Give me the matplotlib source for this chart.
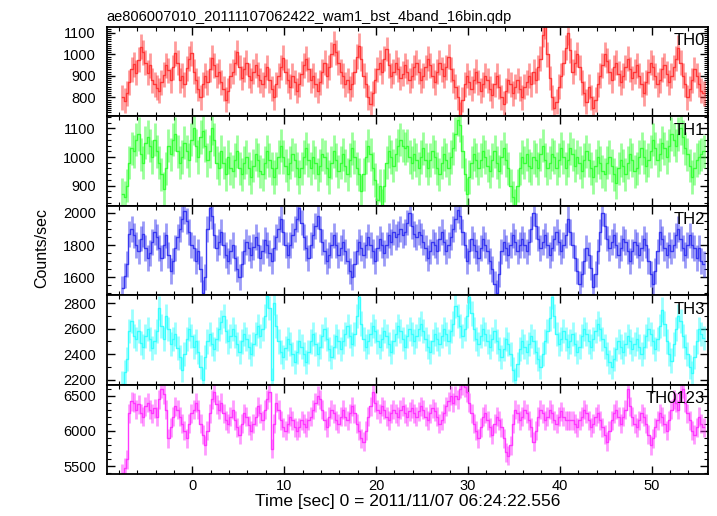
import numpy as np
import matplotlib
matplotlib.use("Agg")
import matplotlib.pyplot as plt
from matplotlib.ticker import MultipleLocator, AutoMinorLocator

plt.rcParams['font.family'] = ['Liberation Sans', 'DejaVu Sans']

titulo = "ae806007010_20111107062422_wam1_bst_4band_16bin.qdp"
xlabel = "Time [sec] 0 = 2011/11/07 06:24:22.556"
ylabel = "Counts/sec"

# tiempo de inicio y ancho de bin (s) de los valores leidos
t_inicio = -7.6
ancho_bin = 0.25

paneles = ["TH0", "TH1", "TH2", "TH3", "TH0123"]
colores = ["#ff3838", "#38ff38", "#3838f0", "#38ffff", "#ff38ff"]

th0 = [
    800, 785, 820, 870, 930, 955, 915, 975, 1035, 1010, 960, 915, 950, 880, 860, 845,
    830, 870, 905, 950, 925, 880, 940, 1005, 960, 880, 900, 860, 935, 980, 1005, 920,
    880, 840, 800, 860, 900, 870, 930, 985, 950, 900, 920, 870, 840, 790, 830, 900,
    920, 960, 1010, 940, 890, 930, 960, 900, 880, 920, 950, 905, 880, 860, 900, 940,
    880, 840, 800, 860, 900, 940, 985, 920, 880, 850, 900, 870, 830, 860, 910, 950,
    980, 930, 880, 900, 860, 830, 870, 920, 960, 900, 940, 1000, 1050, 1010, 960, 920,
    900, 860, 880, 840, 860, 920, 990, 1040, 980, 900, 860, 800, 770, 820, 880, 930,
    960, 920, 980, 1025, 950, 900, 920, 960, 930, 890, 910, 950, 920, 880, 900, 940,
    960, 920, 880, 900, 940, 980, 950, 900, 870, 920, 960, 930, 900, 940, 990, 930,
    880, 850, 800, 720, 790, 860, 900, 870, 840, 880, 920, 870, 830, 860, 900, 880,
    840, 810, 860, 900, 850, 800, 770, 830, 880, 860, 820, 850, 880, 840, 800, 850,
    870, 900, 860, 920, 880, 940, 980, 1090, 1130, 1000, 890, 800, 750, 780, 850, 900,
    960, 1030, 1100, 1020, 920, 960, 1000, 940, 870, 820, 780, 850, 800, 750, 790, 860,
    900, 950, 1000, 970, 920, 880, 940, 960, 910, 870, 900, 940, 980, 930, 890, 920,
    950, 900, 860, 820, 870, 920, 960, 940, 900, 860, 880, 930, 950, 910, 870, 900,
    940, 980, 1030, 960, 900, 860, 800, 840, 880, 930, 900, 860, 830, 820,
]
th1 = [
    870, 860, 900, 980, 1030, 1020, 1060, 1080, 1010, 980, 1050, 1070, 1040, 1000, 1060, 1020,
    980, 940, 890, 960, 1040, 1010, 1060, 1080, 1020, 980, 1000, 1050, 1020, 990, 1060, 1100,
    1040, 1000, 1070, 1090, 1040, 990, 1020, 1100, 1060, 980, 960, 1020, 980, 940, 1000, 960,
    950, 990, 1020, 960, 940, 980, 1000, 960, 930, 970, 1010, 990, 950, 940, 980, 1020,
    990, 960, 930, 960, 1000, 1040, 1000, 970, 940, 980, 1010, 990, 960, 930, 960, 1000,
    1030, 990, 960, 1000, 980, 940, 970, 1010, 1000, 960, 930, 980, 1020, 990, 950, 980,
    1010, 970, 940, 990, 1030, 1000, 960, 940, 880, 940, 1000, 1040, 1010, 960, 920, 850,
    900, 830, 900, 980, 1020, 1000, 970, 1010, 1040, 1060, 1040, 1030, 1040, 1000, 980, 1010,
    990, 960, 1000, 1030, 990, 960, 990, 1020, 1000, 960, 940, 980, 1010, 990, 960, 1000,
    1030, 1080, 1130, 1110, 1020, 940, 870, 930, 980, 1010, 990, 960, 990, 1020, 1000, 970,
    950, 990, 1020, 980, 950, 1000, 1030, 990, 960, 900, 860, 830, 900, 960, 1000, 980,
    1010, 970, 960, 1000, 990, 960, 1010, 1040, 990, 960, 980, 1010, 1000, 960, 990, 1030,
    1000, 960, 990, 1030, 1010, 970, 1000, 980, 950, 990, 1020, 990, 960, 930, 970, 1000,
    980, 950, 940, 980, 1000, 970, 940, 910, 960, 990, 970, 940, 980, 1010, 990, 950,
    960, 1000, 1030, 1000, 970, 990, 1020, 1060, 1030, 990, 1010, 1050, 1030, 1000, 1040, 1080,
    1060, 1040, 1080, 1100, 1070, 1030, 1010, 970, 930, 960, 990, 1000, 1010, 1020,
]
th2 = [
    1530, 1610, 1680, 1870, 1900, 1860, 1800, 1760, 1840, 1870, 1780, 1720, 1750, 1820, 1880, 1850,
    1780, 1720, 1800, 1860, 1740, 1640, 1700, 1780, 1850, 1900, 1960, 2010, 1950, 1880, 1800, 1780,
    1700, 1760, 1650, 1500, 1600, 1900, 2030, 1980, 1860, 1780, 1820, 1880, 1800, 1740, 1700, 1760,
    1800, 1720, 1650, 1600, 1680, 1760, 1820, 1780, 1740, 1790, 1850, 1800, 1720, 1760, 1830, 1800,
    1750, 1700, 1780, 1850, 1900, 1960, 1880, 1800, 1740, 1800, 1860, 1900, 1960, 2030, 1940, 1850,
    1780, 1720, 1800, 1860, 1920, 1980, 1900, 1820, 1760, 1700, 1740, 1800, 1860, 1800, 1740, 1780,
    1820, 1760, 1700, 1640, 1600, 1680, 1760, 1820, 1780, 1740, 1800, 1850, 1800, 1760, 1700, 1780,
    1840, 1800, 1750, 1800, 1860, 1820, 1880, 1850, 1870, 1900, 1860, 1880, 1940, 2000, 1920, 1870,
    1850, 1880, 1860, 1820, 1780, 1720, 1760, 1820, 1800, 1760, 1840, 1880, 1820, 1760, 1800, 1850,
    1900, 1960, 2020, 1980, 1880, 1800, 1700, 1760, 1840, 1800, 1760, 1720, 1780, 1840, 1800, 1760,
    1700, 1650, 1560, 1500, 1620, 1760, 1820, 1780, 1740, 1800, 1860, 1820, 1760, 1800, 1840, 1800,
    1760, 1820, 1900, 2000, 1920, 1840, 1780, 1820, 1860, 1800, 1740, 1780, 1840, 1880, 1820, 1760,
    1800, 1860, 1960, 1880, 1800, 1720, 1640, 1560, 1620, 1700, 1780, 1740, 1660, 1540, 1620, 1760,
    1880, 2000, 1920, 1840, 1780, 1820, 1860, 1800, 1740, 1780, 1840, 1820, 1760, 1700, 1760, 1820,
    1800, 1740, 1780, 1840, 1800, 1700, 1620, 1560, 1640, 1760, 1880, 1840, 1780, 1740, 1800, 1760,
    1800, 1860, 1900, 1840, 1780, 1740, 1800, 1860, 1800, 1780, 1720, 1780, 1700, 1680,
]
th3 = [
    2170, 2260, 2360, 2580, 2660, 2540, 2520, 2580, 2490, 2460, 2540, 2600, 2520, 2450, 2500, 2580,
    2760, 2620, 2520, 2700, 2600, 2480, 2520, 2560, 2450, 2380, 2280, 2400, 2520, 2600, 2540, 2460,
    2500, 2420, 2300, 2200, 2380, 2500, 2560, 2480, 2440, 2520, 2600, 2650, 2700, 2580, 2500, 2540,
    2600, 2540, 2480, 2420, 2500, 2560, 2520, 2460, 2400, 2480, 2560, 2620, 2540, 2600, 2700, 2860,
    2760, 2200, 2800, 2620, 2500, 2420, 2380, 2450, 2520, 2480, 2400, 2340, 2420, 2500, 2460, 2400,
    2340, 2420, 2500, 2560, 2480, 2400, 2460, 2540, 2600, 2520, 2440, 2380, 2460, 2540, 2500, 2440,
    2500, 2560, 2620, 2540, 2480, 2560, 2700, 2850, 2640, 2520, 2460, 2500, 2560, 2620, 2580, 2500,
    2460, 2520, 2580, 2540, 2480, 2420, 2500, 2560, 2620, 2580, 2520, 2460, 2540, 2600, 2560, 2500,
    2540, 2600, 2640, 2580, 2520, 2460, 2420, 2500, 2560, 2520, 2480, 2540, 2600, 2560, 2500, 2580,
    2640, 2780, 2700, 2620, 2540, 2600, 2700, 2850, 2720, 2600, 2520, 2480, 2540, 2600, 2560, 2500,
    2460, 2520, 2580, 2500, 2440, 2380, 2440, 2520, 2480, 2400, 2280, 2200, 2320, 2440, 2500, 2460,
    2420, 2480, 2540, 2500, 2420, 2360, 2300, 2400, 2500, 2580, 2680, 2850, 2700, 2560, 2480, 2520,
    2580, 2520, 2460, 2500, 2560, 2480, 2420, 2460, 2540, 2600, 2560, 2500, 2460, 2520, 2580, 2640,
    2600, 2520, 2460, 2400, 2340, 2300, 2360, 2440, 2500, 2460, 2420, 2480, 2540, 2500, 2440, 2480,
    2520, 2460, 2400, 2460, 2540, 2600, 2560, 2500, 2440, 2520, 2620, 2750, 2640, 2500, 2400, 2350,
    2480, 2600, 2700, 2660, 2540, 2460, 2400, 2300, 2250, 2380, 2500, 2600, 2560, 2530,
]
th0123 = [
    5400, 5480, 5600, 6250, 6420, 6400, 6300, 6380, 6250, 6200, 6350, 6400, 6300, 6250, 6320, 6200,
    6450, 6600, 6520, 6300, 5900, 6050, 6200, 6350, 6300, 6200, 6100, 6000, 5900, 6100, 6250, 6300,
    6400, 6300, 6100, 5950, 5800, 6000, 6250, 6450, 6550, 6380, 6300, 6400, 6250, 6150, 6100, 6200,
    6300, 6150, 6050, 5950, 6100, 6250, 6200, 6080, 6000, 6100, 6200, 6350, 6250, 6150, 6300, 6450,
    6550, 5750, 6100, 6400, 6300, 6150, 6050, 6000, 6100, 6200, 6150, 6050, 6000, 6050, 6150, 6100,
    6050, 6150, 6200, 6300, 6400, 6500, 6450, 6300, 6150, 6050, 6200, 6300, 6250, 6150, 6100, 6200,
    6300, 6200, 6150, 6250, 6350, 6250, 6100, 6000, 5900, 5850, 6000, 6200, 6350, 6550, 6400, 6300,
    6250, 6350, 6300, 6200, 6150, 6250, 6300, 6250, 6200, 6300, 6350, 6250, 6200, 6280, 6320, 6250,
    6200, 6280, 6350, 6300, 6200, 6150, 6250, 6320, 6280, 6200, 6100, 6150, 6250, 6350, 6420, 6500,
    6400, 6500, 6450, 6600, 6650, 6620, 6550, 6400, 6250, 6100, 6000, 5900, 6050, 6200, 6250, 6150,
    6050, 5950, 6100, 6200, 6150, 6050, 5900, 5700, 5650, 5800, 6100, 6300, 6250, 6150, 6200, 6300,
    6250, 6150, 6050, 5850, 6000, 6200, 6300, 6250, 6150, 6200, 6300, 6250, 6150, 6100, 6200, 6280,
    6200, 6150, 6150, 6150, 6150, 6100, 6050, 6150, 6200, 6300, 6250, 6150, 6050, 6100, 6200, 6250,
    6150, 6050, 5950, 5850, 6000, 6150, 6250, 6300, 6200, 6100, 6200, 6300, 6600, 6350, 6200, 6100,
    6050, 6150, 6250, 6200, 6100, 5950, 5800, 5900, 6050, 6150, 6250, 6200, 6100, 6000, 6150, 6300,
    6450, 6400, 6300, 6550, 6600, 6400, 6250, 6150, 6000, 5950, 6050, 6200, 6100, 6050,
]
series = [th0, th1, th2, th3, th0123]

# error tipico de cada banda (cuentas/s)
errores = [58, 58, 80, 95, 135]

limites_y = [(712, 1128), (830, 1142), (1488, 2044), (2161, 2862), (5386, 6657)]
paso_y = [100, 100, 200, 200, 500]
sub_y = [10, 5, 4, 2, 5]

fig, axes = plt.subplots(5, 1, sharex=True, figsize=(7.17, 5.16), dpi=100)
fig.subplots_adjust(left=0.149, right=0.987, top=0.948, bottom=0.081, hspace=0)

for ax, nombre, color, datos, err, lim, paso, sub in zip(axes, paneles, colores, series, errores, limites_y, paso_y, sub_y):
    datos = np.array(datos, dtype=float)
    t = t_inicio + ancho_bin * np.arange(len(datos))
    ax.errorbar(t, datos, yerr=err, fmt='none', ecolor=color, elinewidth=2.0, alpha=0.5)
    ax.plot(t, datos, drawstyle='steps-mid', color=color, lw=1.0)
    ax.set_ylim(*lim)
    ax.yaxis.set_major_locator(MultipleLocator(paso))
    ax.yaxis.set_minor_locator(AutoMinorLocator(sub))
    ax.xaxis.set_major_locator(MultipleLocator(10))
    ax.xaxis.set_minor_locator(MultipleLocator(2))
    ax.tick_params(which='both', direction='in', top=True, right=True, labelsize=10.5, colors='black')
    ax.tick_params(which='major', length=6, width=1)
    ax.tick_params(which='minor', length=3, width=0.8)
    ax.tick_params(axis='y', pad=8)
    for s in ax.spines.values():
        s.set_linewidth(1.3)
    ax.text(0.995, 0.93, nombre, transform=ax.transAxes, ha='right', va='top', fontsize=12)

axes[0].set_xlim(-9.3, 56.1)
axes[0].set_title(titulo, loc='left', fontsize=10.5, pad=4)
axes[-1].set_xlabel(xlabel, fontsize=12.5, labelpad=1)
fig.text(0.058, 0.52, ylabel, rotation=90, ha='center', va='center', fontsize=11.5)

plt.savefig("out.png", dpi=100)
plt.close()
